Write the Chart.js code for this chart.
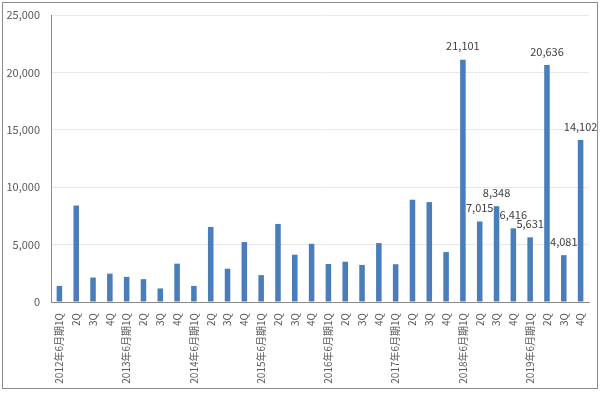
<!DOCTYPE html>
<html>
<head>
<meta charset="utf-8">
<script src="https://cdn.jsdelivr.net/npm/chart.js@4/dist/chart.umd.min.js"></script>
<style>
  html, body { margin: 0; padding: 0; background: #fff; }
  #wrap { position: relative; width: 600px; height: 393px; }
  #frame { position: absolute; left: 2px; top: 2px; width: 594px; height: 385px; border: 1px solid #8a8a8a; pointer-events: none; }
</style>
</head>
<body>
<div id="wrap">
  <canvas id="myChart"></canvas>
  <div id="frame"></div>
</div>
<script>
// 四半期ラベル
const years = ['2012', '2013', '2014', '2015', '2016', '2017', '2018', '2019'];
const quarters = ['1Q', '2Q', '3Q', '4Q'];

// 各四半期の値
const values = [
    1400, 8400, 2130, 2470,
    2190, 1990, 1180, 3340,
    1400, 6540, 2900, 5220,
    2340, 6800, 4120, 5070,
    3310, 3510, 3230, 5130,
    3290, 8910, 8700, 4350,
    21101, 7015, 8348, 6416,
    5631, 20636, 4081, 14102
];

// 数値ラベルを表示する最初のインデックス（2018年6月期1Q以降）
const annotateFrom = 24;

const yTicks = [0, 5000, 10000, 15000, 20000, 25000];

const labels = [];
years.forEach(y => {
    quarters.forEach((q, i) => {
        labels.push(i === 0 ? y + '年6月期' + q : q);
    });
});

const fontFamily = '"Noto Sans CJK JP", sans-serif';

// バーの上に値を描くプラグイン
const valueLabels = {
    id: 'valueLabels',
    afterDatasetsDraw(chart) {
        const ctx = chart.ctx;
        const meta = chart.getDatasetMeta(0);
        ctx.save();
        ctx.font = '11px ' + fontFamily;
        ctx.fillStyle = '#404040';
        ctx.textAlign = 'center';
        ctx.textBaseline = 'middle';
        meta.data.forEach((bar, i) => {
            if (i < annotateFrom) return;
            ctx.fillText(values[i].toLocaleString('en-US'), bar.x, bar.y - 13.5);
        });
        ctx.restore();
    }
};

new Chart(document.getElementById('myChart').getContext('2d'), {
    type: 'bar',
    data: {
        labels: labels,
        datasets: [{
            data: values,
            backgroundColor: '#4a7ebb',
            barPercentage: 0.33,
            categoryPercentage: 1.0
        }]
    },
    options: {
        responsive: true,
        maintainAspectRatio: false,
        animation: false,
        layout: { padding: { top: 15, right: 11, left: 0, bottom: 0 } },
        plugins: {
            legend: { display: false },
            tooltip: { enabled: false }
        },
        scales: {
            x: {
                grid: { display: false },
                border: { color: '#8a8a8a', width: 1 },
                ticks: {
                    autoSkip: false,
                    minRotation: 90,
                    maxRotation: 90,
                    padding: 3,
                    color: '#595959',
                    font: { size: 10, family: fontFamily }
                },
                afterFit(scale) {
                    scale.height = 91;
                    scale.paddingTop = 0;
                    scale.paddingBottom = 0;
                }
            },
            y: {
                min: 0,
                max: 25000,
                afterBuildTicks(scale) { scale.ticks = yTicks.map(v => ({ value: v })); },
                grid: { color: '#e9e9e9', drawTicks: false },
                border: { color: '#8a8a8a', width: 1 },
                ticks: {
                    padding: 11,
                    color: '#595959',
                    font: { size: 11, family: fontFamily },
                    callback: v => v.toLocaleString('en-US')
                },
                afterFit(scale) {
                    scale.width = 51;
                    scale.paddingTop = 0;
                    scale.paddingBottom = 0;
                }
            }
        }
    },
    plugins: [valueLabels]
});
</script>
</body>
</html>
